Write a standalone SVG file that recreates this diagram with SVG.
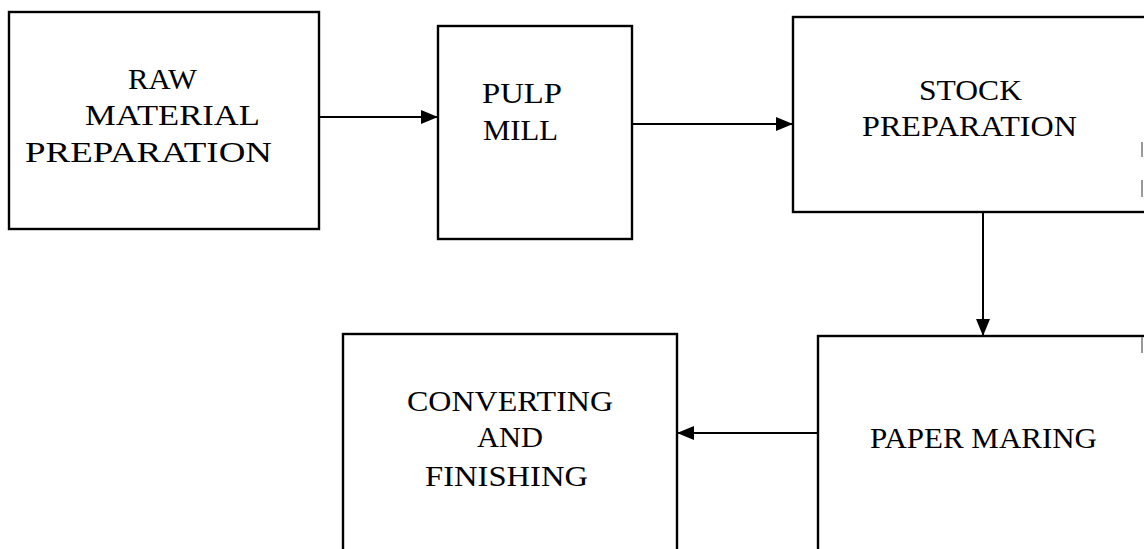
<svg xmlns="http://www.w3.org/2000/svg" width="1144" height="549" viewBox="0 0 1144 549">
<style>
.box{fill:#fff;stroke:#000;stroke-width:2.4}
.lbl{font-family:"Liberation Serif","Times New Roman",serif;font-size:29px;fill:#000}
.conn{stroke:#000;stroke-width:2;fill:none}
.mark{stroke:#999;stroke-width:2}
</style>
<defs>
<marker id="arrh" markerWidth="17" markerHeight="14" refX="17" refY="7" orient="auto" markerUnits="userSpaceOnUse" viewBox="0 0 17 14">
<path d="M0,0 L17,7 L0,14 z" fill="#000"/>
</marker>
</defs>
<rect width="1144" height="549" fill="#fff"/>
<g id="raw">
<rect class="box" x="9" y="12" width="310" height="217"/>
<text class="lbl" x="128" y="89" textLength="69" lengthAdjust="spacingAndGlyphs">RAW</text>
<text class="lbl" x="85" y="125" textLength="175" lengthAdjust="spacingAndGlyphs">MATERIAL</text>
<text class="lbl" x="25" y="162" textLength="247" lengthAdjust="spacingAndGlyphs">PREPARATION</text>
</g>
<g id="pulp">
<rect class="box" x="438" y="26" width="194" height="213"/>
<text class="lbl" x="482" y="103" textLength="80" lengthAdjust="spacingAndGlyphs">PULP</text>
<text class="lbl" x="483" y="140" textLength="75" lengthAdjust="spacingAndGlyphs">MILL</text>
</g>
<g id="stock">
<rect class="box" x="793" y="17" width="360" height="195"/>
<text class="lbl" x="919" y="100" textLength="103" lengthAdjust="spacingAndGlyphs">STOCK</text>
<text class="lbl" x="862" y="136" textLength="215" lengthAdjust="spacingAndGlyphs">PREPARATION</text>
</g>
<g id="paper">
<rect class="box" x="818" y="336" width="340" height="230"/>
<text class="lbl" x="870" y="448" textLength="227" lengthAdjust="spacingAndGlyphs">PAPER MARING</text>
</g>
<g id="converting">
<rect class="box" x="343" y="334" width="334" height="230"/>
<text class="lbl" x="407" y="411" textLength="206" lengthAdjust="spacingAndGlyphs">CONVERTING</text>
<text class="lbl" x="477" y="447" textLength="66" lengthAdjust="spacingAndGlyphs">AND</text>
<text class="lbl" x="425" y="486" textLength="163" lengthAdjust="spacingAndGlyphs">FINISHING</text>
</g>
<g id="connectors">
<line class="conn" x1="319" y1="117" x2="438" y2="117" marker-end="url(#arrh)"/>
<line class="conn" x1="632" y1="124" x2="793" y2="124" marker-end="url(#arrh)"/>
<line class="conn" x1="983" y1="212" x2="983" y2="336" marker-end="url(#arrh)"/>
<line class="conn" x1="818" y1="433" x2="677" y2="433" marker-end="url(#arrh)"/>
</g>
<g id="marks">
<line class="mark" x1="1142" y1="142" x2="1142" y2="157"/>
<line class="mark" x1="1142" y1="180" x2="1142" y2="197"/>
<line class="mark" x1="1142" y1="337" x2="1142" y2="353"/>
</g>
</svg>
